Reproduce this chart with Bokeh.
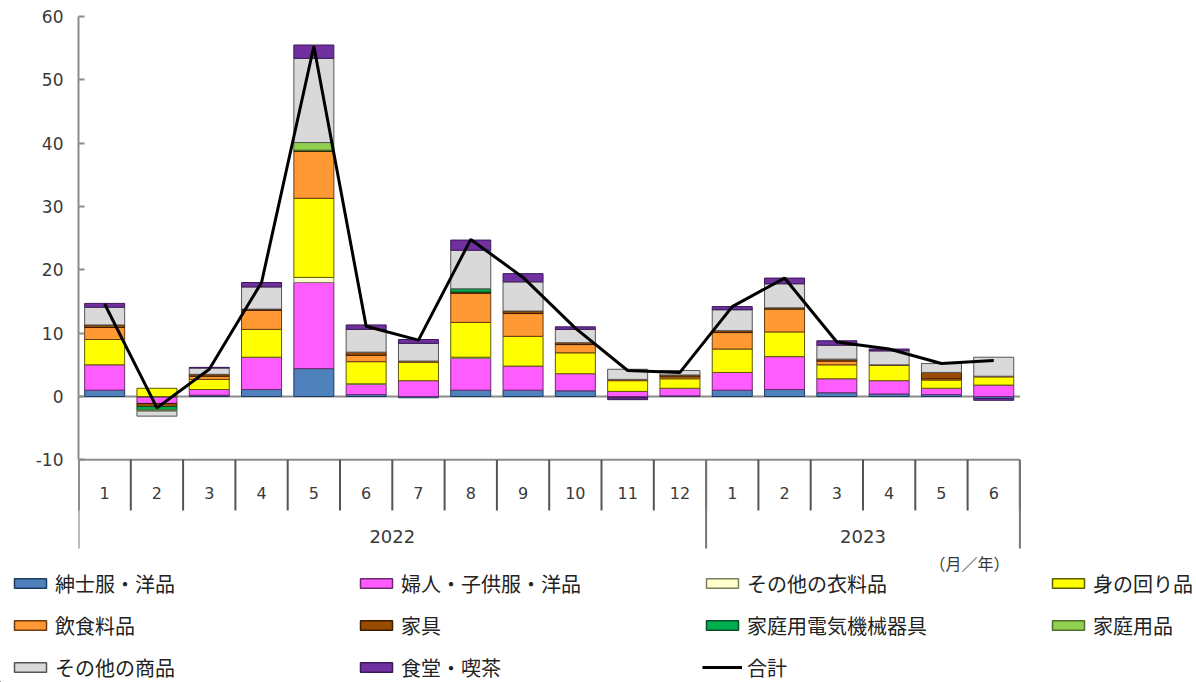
import numpy as np
from bokeh.plotting import figure
from bokeh.layouts import column
from bokeh.models import Range1d, FixedTicker, Legend, LegendItem
from bokeh.core.properties import value
from bokeh.embed import file_html
from bokeh.resources import INLINE

# ---- data: year-on-year contribution by product group (points), Jan 2022 - Jun 2023 ----
months = ["1", "2", "3", "4", "5", "6", "7", "8", "9", "10", "11", "12",
          "1", "2", "3", "4", "5", "6"]
years = ["2022", "2023"]
months_per_year = [12, 6]

mens_wear = [1.0, -0.1, 0.2, 1.1, 4.4, 0.3, -0.2, 1.0, 1.0, 0.9, -0.2, 0.1, 1.0, 1.1, 0.6, 0.4, 0.3, -0.3]
womens_kids_wear = [4.0, -1.0, 0.9, 5.1, 13.6, 1.6, 2.5, 5.0, 3.8, 2.7, 0.8, 1.2, 2.8, 5.2, 2.2, 2.1, 1.0, 1.8]
other_clothing = [0.0, 0.0, 0.0, 0.0, 0.8, 0.1, 0.0, 0.2, 0.0, 0.0, 0.0, 0.0, 0.0, 0.0, 0.0, 0.0, 0.0, 0.0]
accessories = [4.0, 1.3, 1.6, 4.4, 12.5, 3.5, 2.9, 5.5, 4.7, 3.3, 1.7, 1.5, 3.7, 3.9, 2.2, 2.4, 1.3, 1.3]
food_drink = [1.9, 0.0, 0.5, 3.0, 7.4, 1.0, 0.2, 4.6, 3.6, 1.3, 0.2, 0.3, 2.6, 3.6, 0.6, 0.1, 0.2, 0.1]
furniture = [0.4, -0.5, 0.3, 0.2, 0.1, 0.5, 0.0, 0.2, 0.4, 0.3, 0.0, 0.3, 0.3, 0.2, 0.3, 0.0, 1.0, 0.0]
appliances = [0.0, -0.5, 0.0, 0.0, 0.1, 0.0, 0.0, 0.5, 0.0, 0.0, 0.0, 0.0, 0.0, 0.0, 0.0, 0.0, 0.0, 0.0]
household = [0.0, -0.2, 0.0, 0.0, 1.2, 0.0, 0.0, 0.0, 0.0, 0.0, 0.0, 0.0, 0.0, 0.0, 0.0, 0.0, 0.0, 0.0]
other_goods = [2.8, -0.8, 1.0, 3.5, 13.3, 3.6, 2.8, 6.1, 4.6, 2.1, 1.6, 0.7, 3.3, 3.8, 2.2, 2.2, 1.4, 3.0]
restaurants = [0.6, 0.0, 0.1, 0.7, 2.1, 0.7, 0.6, 1.6, 1.3, 0.4, -0.3, 0.0, 0.5, 0.9, 0.7, 0.3, 0.0, -0.3]
total = [14.6, -1.8, 4.3, 18.0, 55.3, 11.1, 8.9, 24.8, 18.8, 10.8, 4.1, 3.8, 14.2, 18.7, 8.6, 7.5, 5.2, 5.7]

series_names = ["紳士服・洋品", "婦人・子供服・洋品", "その他の衣料品", "身の回り品",
                "飲食料品", "家具", "家庭用電気機械器具", "家庭用品",
                "その他の商品", "食堂・喫茶"]
series_values = [mens_wear, womens_kids_wear, other_clothing, accessories,
                 food_drink, furniture, appliances, household,
                 other_goods, restaurants]
fill_colors = ["#4F81BD", "#FF5CFF", "#FFFFCC", "#FFFF00", "#FF9933",
               "#994C00", "#00B050", "#92D050", "#D9D9D9", "#7030A0"]
edge_colors = ["#1F3A5F", "#6E2A6E", "#7F7F60", "#5C5C00", "#6B3A10",
               "#3A1C00", "#0B4A26", "#4E6E2C", "#555555", "#3A1858"]
total_name = "合計"
unit_note = "（月／年）"

# ---- layout constants (pixels) ----
W = 1196
CHART_H = 549
LEGEND_H = 682 - CHART_H
LEFT = 78
PX_PER_CAT = 52.3
Y0_PX = 396.0
PX_PER_UNIT = 380.0 / 60.0

n = len(months)
centers = np.arange(n) + 0.5
bounds_x = np.arange(n + 1)
year_edges = np.concatenate([[0], np.cumsum(months_per_year)])
year_centers = (year_edges[:-1] + year_edges[1:]) / 2.0


def ydata(px):
    return (Y0_PX - px) / PX_PER_UNIT


p = figure(width=W, height=CHART_H,
           x_range=Range1d(0, (W - LEFT) / PX_PER_CAT),
           y_range=Range1d(ydata(CHART_H), ydata(0)),
           output_backend="svg", toolbar_location=None,
           x_axis_location=None, y_axis_location="left",
           min_border_left=LEFT, min_border_right=0,
           min_border_top=0, min_border_bottom=0)
p.frame_align = False
p.grid.visible = False
p.outline_line_color = None

axis_grey = "#8C8C8C"
text_grey = "#3A3A3A"

# y axis from -10 to 60
yax = p.yaxis[0]
yax.ticker = FixedTicker(ticks=list(range(-10, 61, 10)))
yax.major_label_overrides = {-10: "-10"}
yax.bounds = (-10, 60)
yax.axis_line_color = axis_grey
yax.axis_line_width = 2
yax.major_tick_in = 6
yax.major_tick_out = 0
yax.minor_tick_in = 0
yax.minor_tick_out = 0
yax.major_tick_line_color = axis_grey
yax.major_tick_line_width = 2
yax.major_label_standoff = 15
yax.major_label_text_font = "DejaVu Sans"
yax.major_label_text_font_size = "17px"
yax.major_label_text_color = text_grey

# zero line and category axis line
p.segment(x0=[0, 0], y0=[0, -10], x1=[n, n], y1=[0, -10],
          line_color=axis_grey, line_width=2)

# category table: month separators and year separators
p.segment(x0=bounds_x, y0=-10, x1=bounds_x, y1=ydata(510),
          line_color="#555555", line_width=2)
p.segment(x0=year_edges, y0=-10, x1=year_edges, y1=ydata(548),
          line_color="#777777", line_width=2)

p.text(x=centers, y=ydata(492), text=months,
       text_align="center", text_baseline="middle",
       text_font=value("DejaVu Sans"), text_font_size="16px", text_color=text_grey)
p.text(x=year_centers, y=ydata(536), text=years,
       text_align="center", text_baseline="middle",
       text_font=value("DejaVu Sans"), text_font_size="18px", text_color=text_grey)

# stacked bars: positives build upward, negatives downward
pos = np.zeros(n)
neg = np.zeros(n)
for vals, fc, ec in zip(series_values, fill_colors, edge_colors):
    v = np.asarray(vals, dtype=float)
    bottom = np.where(v >= 0, pos, neg)
    top = bottom + v
    pos = np.where(v >= 0, pos + v, pos)
    neg = np.where(v < 0, neg + v, neg)
    keep = v != 0
    p.vbar(x=centers[keep], width=0.765, bottom=bottom[keep], top=top[keep],
           fill_color=fc, line_color=ec, line_width=1)

p.line(x=centers, y=total, line_color="black", line_width=3)

# ---- legend strip below the chart (pixel units, y measured from its bottom) ----
lg = figure(width=W, height=LEGEND_H, x_range=Range1d(0, W), y_range=Range1d(0, LEGEND_H),
            output_backend="svg", toolbar_location=None,
            x_axis_location=None, y_axis_location=None,
            min_border_left=0, min_border_right=0, min_border_top=0, min_border_bottom=0)
lg.frame_align = False
lg.grid.visible = False
lg.outline_line_color = None

# month/year note under the right end of the category axis
lg.text(x=[LEFT + (n - 0.2) * PX_PER_CAT], y=[LEGEND_H - (562 - CHART_H)], text=[unit_note],
        text_align="right", text_baseline="middle",
        text_font=value("Noto Sans CJK JP"), text_font_size="16px", text_color=text_grey)

# swatch renderers sit outside the visible range; only their legend glyphs show
items = []
for name, fc, ec in zip(series_names, fill_colors, edge_colors):
    r = lg.vbar(x=[-50], top=[-50], bottom=[-60], width=5,
                fill_color=fc, line_color=ec, line_width=1.5)
    items.append(LegendItem(label=name, renderers=[r]))
r_total = lg.line(x=[-50, -40], y=[-50, -50], line_color="black", line_width=3)
items.append(LegendItem(label=total_name, renderers=[r_total]))

legend = Legend(items=items, orientation="horizontal", ncols=4,
                location=(10, 0),
                glyph_width=40, glyph_height=12, label_standoff=5,
                label_width=289, label_height=30, spacing=12,
                padding=0, margin=0,
                border_line_color=None, background_fill_alpha=0,
                label_text_font="Noto Sans CJK JP", label_text_font_size="20px",
                label_text_color="#222222")
lg.add_layout(legend)

layout = column(p, lg, spacing=0)
open("out.html", "w").write(file_html(layout, INLINE))
